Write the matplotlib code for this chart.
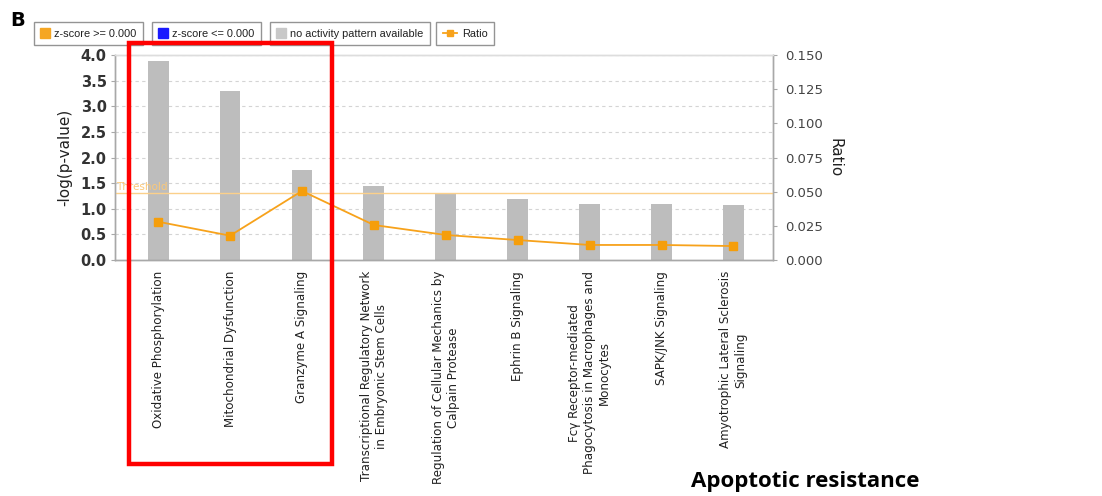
import matplotlib
matplotlib.use("Agg")
import matplotlib.pyplot as plt
from matplotlib.lines import Line2D
from matplotlib.patches import Rectangle

# pathway categories (x axis)
pathways = [
    "Oxidative Phosphorylation",
    "Mitochondrial Dysfunction",
    "Granzyme A Signaling",
    "Transcriptional Regulatory Network\nin Embryonic Stem Cells",
    "Regulation of Cellular Mechanics by\nCalpain Protease",
    "Ephrin B Signaling",
    "Fc\u03b3 Receptor-mediated\nPhagocytosis in Macrophages and\nMonocytes",
    "SAPK/JNK Signaling",
    "Amyotrophic Lateral Sclerosis\nSignaling",
]
neg_log_p = [3.88, 3.30, 1.76, 1.44, 1.31, 1.19, 1.09, 1.09, 1.07]
ratio = [0.028, 0.0178, 0.0505, 0.0256, 0.0183, 0.0146, 0.011, 0.011, 0.0102]
threshold = 1.3

left_ticks = [0.0, 0.5, 1.0, 1.5, 2.0, 2.5, 3.0, 3.5, 4.0]
right_ticks = [0.0, 0.025, 0.05, 0.075, 0.1, 0.125, 0.15]

bar_grey = "#bdbdbd"
orange = "#f7a21b"
axis_grey = "#a8a8a8"

plt.rcParams["font.family"] = ["DejaVu Sans"]

fig = plt.figure(figsize=(11.02, 4.96), dpi=100)
ax = fig.add_axes([115 / 1102, 1 - 260 / 496, 658 / 1102, 205 / 496])
ax2 = ax.twinx()

x = list(range(len(pathways)))
ax.bar(x, neg_log_p, width=0.29, color=bar_grey, zorder=2)
ax.set_xlim(-0.6, 8.55)
ax.set_ylim(0, 4.0)
ax.set_yticks(left_ticks)
ax.set_yticklabels(["%.1f" % v for v in left_ticks], fontsize=10.5,
                   color="#333333", fontweight="bold")
for v in left_ticks[1:]:
    ax.axhline(v, color="#d4d4d4", lw=0.8, ls=(0, (3, 3)), zorder=1)

ax.axhline(threshold, color="#fbd08a", lw=1.0, zorder=3)
ax.text(0.0 - 0.58, threshold + 0.02, "Threshold", color="#fbc878",
        fontsize=7.5, va="bottom", ha="left", zorder=3)

ax.set_xticks(x)
ax.set_xticklabels(pathways, rotation=90, fontsize=8.6, color="#222222",
                   ha="center", va="top")
for t in ax.get_xticklabels():
    t.set_multialignment("center")
ax.tick_params(axis="x", length=0, pad=8)
ax.tick_params(axis="y", length=3, color=axis_grey, pad=3)
ax.set_ylabel("-log(p-value)", fontsize=11, color="#222222", labelpad=6)

ax2.plot(x, ratio, color=orange, lw=1.3, marker="s", markersize=6,
         markerfacecolor="#f59e0b", markeredgecolor="#f59e0b", zorder=4)
ax2.set_ylim(0, 0.15)
ax2.set_yticks(right_ticks)
ax2.set_yticklabels(["%.3f" % v for v in right_ticks], fontsize=9.5,
                    color="#444444")
ax2.tick_params(axis="y", length=3, color=axis_grey, pad=6)
ax2.set_ylabel("Ratio", fontsize=11, color="#222222", rotation=270,
               labelpad=14)

for a in (ax, ax2):
    for s in a.spines.values():
        s.set_color(axis_grey)
        s.set_linewidth(1.0)
    a.spines["top"].set_color("#dddddd")

# legend boxes along the top
items = [
    (Line2D([], [], ls="none", marker="s", color="#f5a623", markersize=6.5),
     "z-score >= 0.000", 34),
    (Line2D([], [], ls="none", marker="s", color="#1a1aff", markersize=6.5),
     "z-score <= 0.000", 152),
    (Line2D([], [], ls="none", marker="s", color="#c8c8c8", markersize=6.5),
     "no activity pattern available", 270),
    (Line2D([], [], color=orange, marker="s", markersize=5, lw=1.3),
     "Ratio", 436),
]
for h, lab, px in items:
    leg = fig.legend(handles=[h], labels=[lab], loc="upper left",
                     bbox_to_anchor=(px / 1102, 1 - 22 / 496),
                     prop={"family": "Liberation Sans", "size": 7.9},
                     frameon=True, fancybox=False, borderpad=0.6,
                     handlelength=0.8 if h.get_linestyle() == "None" else 1.3,
                     handletextpad=0.45, borderaxespad=0)
    leg.get_frame().set_edgecolor("#7a7a7a")
    leg.get_frame().set_linewidth(1.0)
    for t in leg.get_texts():
        t.set_color("#222222")

# red highlight box around the top three pathways
fig.patches.append(Rectangle((129 / 1102, 1 - 464 / 496), 203 / 1102,
                             421 / 496, transform=fig.transFigure,
                             fill=False, edgecolor="#ff0000", lw=3.2,
                             zorder=10))

fig.text(10 / 1102, 1 - 20 / 496, "B", fontsize=14, fontweight="bold",
         va="center", ha="left")
fig.text(805 / 1102, 1 - 482 / 496, "Apoptotic resistance", fontsize=16,
         fontweight="bold", va="center", ha="center", family="Open Sans")

fig.savefig("out.png", dpi=100)
